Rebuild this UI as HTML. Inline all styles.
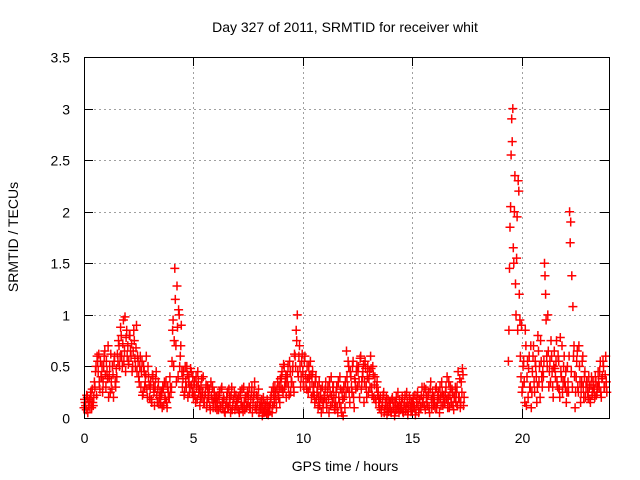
<!DOCTYPE html>
<html><head><meta charset="utf-8"><style>
body{margin:0;background:#fff}
svg{display:block;font-family:"Liberation Sans",sans-serif}
</style></head><body>
<svg id="chart" width="640" height="480" viewBox="0 0 640 480">
<text x="345" y="32" font-size="14" text-anchor="middle">Day 327 of 2011, SRMTID for receiver whit</text>
<text transform="translate(18,237) rotate(-90)" font-size="14" text-anchor="middle">SRMTID / TECUs</text>
<text x="345" y="471" font-size="14" text-anchor="middle">GPS time / hours</text>
<g id="grid"></g>
<g id="ticks"></g>
<g id="points"></g>
<rect x="84.5" y="57.5" width="525" height="361" fill="none" stroke="#000" stroke-width="1"/>
</svg>
<script>
const xTicks=[0,5,10,15,20];
const yTicks=[0,0.5,1,1.5,2,2.5,3,3.5];
const yTickLabels=["0","0.5","1","1.5","2","2.5","3","3.5"];
const startHour=0;
const stepHour=0.05;
const srmtid=[
0.1,0.15,0.08,0.2,0.12,0.18,0.25,0.1,0.15,0.2,
0.3,0.5,0.6,0.45,0.35,0.55,0.4,0.25,0.5,0.65,
0.3,0.45,0.7,0.4,0.25,0.35,0.5,0.2,0.6,0.3,
0.4,0.55,0.7,0.6,0.8,0.5,0.95,0.65,0.45,0.85,
0.7,0.55,0.8,0.6,0.45,0.65,0.75,0.5,0.9,0.6,
0.4,0.5,0.3,0.55,0.25,0.45,0.35,0.6,0.2,0.4,
0.2,0.35,0.15,0.4,0.25,0.3,0.45,0.15,0.35,0.2,
0.15,0.25,0.3,0.12,0.2,0.35,0.1,0.25,0.2,0.3,
0.3,0.85,0.5,1.45,0.7,1.28,0.4,1.0,0.6,0.9,
0.3,0.45,0.25,0.35,0.5,0.2,0.4,0.3,0.45,0.25,
0.2,0.35,0.15,0.3,0.45,0.25,0.12,0.3,0.2,0.4,
0.15,0.25,0.1,0.3,0.2,0.12,0.35,0.18,0.1,0.25,
0.1,0.2,0.15,0.08,0.25,0.12,0.3,0.1,0.18,0.05,
0.15,0.25,0.1,0.2,0.05,0.3,0.12,0.18,0.08,0.22,
0.1,0.2,0.05,0.25,0.15,0.1,0.3,0.08,0.2,0.12,
0.15,0.3,0.1,0.25,0.05,0.2,0.35,0.12,0.08,0.2,
0.05,0.15,0.1,0.02,0.2,0.08,0.12,0.04,0.1,0.06,
0.1,0.2,0.05,0.3,0.15,0.25,0.1,0.35,0.2,0.15,
0.3,0.45,0.25,0.5,0.35,0.2,0.4,0.3,0.55,0.25,
0.35,0.5,0.25,0.6,0.85,1.0,0.4,0.7,0.3,0.55,
0.45,0.3,0.6,0.35,0.5,0.25,0.4,0.55,0.2,0.45,
0.3,0.15,0.4,0.25,0.1,0.35,0.2,0.05,0.3,0.15,
0.2,0.35,0.1,0.3,0.05,0.25,0.4,0.15,0.3,0.1,
0.15,0.3,0.05,0.2,0.4,0.1,0.25,0.02,0.2,0.35,
0.65,0.3,0.5,0.15,0.4,0.25,0.55,0.1,0.35,0.45,
0.3,0.5,0.2,0.6,0.35,0.45,0.15,0.55,0.3,0.4,
0.25,0.45,0.6,0.3,0.5,0.2,0.4,0.15,0.35,0.25,
0.1,0.2,0.05,0.15,0.25,0.08,0.12,0.03,0.18,0.1,
0.15,0.05,0.2,0.1,0.02,0.15,0.08,0.25,0.05,0.12,
0.1,0.2,0.05,0.15,0.08,0.25,0.03,0.12,0.18,0.06,
0.08,0.2,0.12,0.03,0.15,0.25,0.05,0.18,0.1,0.3,
0.15,0.3,0.08,0.2,0.12,0.25,0.05,0.35,0.1,0.2,
0.2,0.1,0.3,0.15,0.25,0.05,0.2,0.35,0.12,0.22,
0.15,0.3,0.4,0.2,0.1,0.3,0.15,0.25,0.08,0.2,
0.15,0.3,0.45,0.2,0.1,0.35,0.48,0.12,null,null,
null,null,null,null,null,null,null,null,null,null,
null,null,null,null,null,null,null,null,null,null,
null,null,null,null,null,null,null,null,null,null,
null,null,null,null,null,null,null,null,0.55,1.45,
2.05,2.9,3.0,1.5,2.35,1.0,1.95,2.3,1.2,0.6,
0.9,0.3,0.55,0.15,0.7,0.4,0.2,0.6,0.3,0.1,
0.45,0.7,0.25,0.5,0.15,0.8,0.35,0.2,0.55,0.3,
0.4,1.5,1.2,0.6,1.0,0.3,0.55,0.75,0.45,0.2,
0.65,0.4,0.75,0.3,0.55,0.2,0.45,0.7,0.35,0.6,
0.3,0.15,0.5,0.25,2.0,1.9,1.38,1.08,0.7,0.1,
0.4,0.65,0.25,0.5,0.15,0.35,0.6,0.2,0.45,0.3,
0.35,0.2,0.3,0.15,0.4,0.25,0.3,0.2,0.35,0.25,
0.45,0.3,0.55,0.2,0.4,0.5,0.3,0.6,0.25,null
];
const srmtidB=[
0.18,0.12,0.22,0.05,0.16,0.1,0.2,0.28,0.12,0.35,
0.45,0.22,0.55,0.62,0.28,0.4,0.5,0.35,0.6,0.42,
0.55,0.38,0.2,0.5,0.62,0.28,0.42,0.55,0.35,0.48,
0.62,0.75,0.5,0.88,0.6,0.72,0.55,0.98,0.78,0.6,
0.52,0.8,0.65,0.72,0.5,0.85,0.58,0.68,0.45,0.55,
0.35,0.6,0.45,0.22,0.5,0.3,0.42,0.28,0.5,0.32,
0.28,0.18,0.42,0.3,0.12,0.38,0.22,0.28,0.15,0.25,
0.22,0.1,0.28,0.35,0.18,0.15,0.3,0.2,0.4,0.25,
0.55,0.95,0.75,1.15,0.35,0.88,1.05,0.5,0.7,0.45,
0.38,0.22,0.5,0.3,0.42,0.35,0.25,0.48,0.32,0.4,
0.3,0.22,0.4,0.18,0.35,0.28,0.2,0.38,0.25,0.15,
0.22,0.32,0.15,0.2,0.28,0.08,0.22,0.3,0.15,0.2,
0.15,0.08,0.22,0.18,0.1,0.28,0.15,0.2,0.06,0.12,
0.2,0.1,0.28,0.15,0.22,0.08,0.18,0.25,0.12,0.16,
0.18,0.08,0.22,0.12,0.28,0.06,0.15,0.2,0.1,0.25,
0.22,0.1,0.18,0.3,0.15,0.25,0.1,0.22,0.15,0.28,
0.12,0.08,0.18,0.1,0.05,0.14,0.1,0.18,0.03,0.12,
0.15,0.25,0.12,0.22,0.3,0.18,0.28,0.22,0.3,0.38,
0.4,0.28,0.52,0.3,0.42,0.35,0.5,0.22,0.45,0.35,
0.45,0.3,0.62,0.5,0.75,0.45,0.6,0.5,0.4,0.62,
0.35,0.55,0.42,0.28,0.38,0.5,0.3,0.42,0.35,0.25,
0.22,0.35,0.18,0.3,0.2,0.12,0.28,0.18,0.1,0.22,
0.28,0.15,0.25,0.18,0.35,0.12,0.22,0.3,0.2,0.08,
0.25,0.1,0.35,0.15,0.28,0.05,0.18,0.3,0.1,0.25,
0.4,0.55,0.25,0.45,0.3,0.5,0.2,0.38,0.28,0.5,
0.45,0.35,0.58,0.28,0.4,0.52,0.35,0.48,0.2,0.5,
0.38,0.3,0.48,0.22,0.42,0.32,0.18,0.3,0.22,0.15,
0.18,0.08,0.12,0.22,0.05,0.15,0.2,0.1,0.06,0.15,
0.08,0.18,0.1,0.15,0.06,0.2,0.12,0.1,0.18,0.08,
0.15,0.06,0.12,0.22,0.1,0.15,0.08,0.2,0.1,0.15,
0.15,0.1,0.22,0.08,0.2,0.12,0.18,0.1,0.22,0.15,
0.22,0.12,0.28,0.15,0.22,0.1,0.28,0.18,0.25,0.12,
0.15,0.28,0.1,0.22,0.18,0.3,0.12,0.25,0.2,0.15,
0.25,0.18,0.1,0.35,0.22,0.15,0.28,0.12,0.2,0.3,
0.25,0.12,0.2,0.38,0.15,0.25,0.42,0.2,null,null,
null,null,null,null,null,null,null,null,null,null,
null,null,null,null,null,null,null,null,null,null,
null,null,null,null,null,null,null,null,null,null,
null,null,null,null,null,null,null,null,0.85,1.85,
2.55,2.68,1.65,2.0,1.3,1.55,0.85,2.2,0.95,0.4,
0.25,0.5,0.35,0.85,0.12,0.55,0.48,0.3,0.7,0.25,
0.6,0.35,0.55,0.4,0.3,0.65,0.5,0.75,0.4,0.45,
0.55,1.38,0.95,0.5,0.65,0.45,0.35,0.6,0.3,0.5,
0.48,0.55,0.35,0.6,0.28,0.78,0.4,0.25,0.5,0.35,
0.45,0.25,0.35,0.6,1.7,0.45,0.3,0.6,0.4,0.25,
0.55,0.3,0.7,0.35,0.25,0.55,0.3,0.4,0.2,0.35,
0.25,0.4,0.18,0.32,0.22,0.35,0.28,0.4,0.22,0.3,
0.35,0.45,0.25,0.38,0.55,0.3,0.42,0.35,null,null
];
const X0=84,X1=609,Y0=418,Y1=57;
function xs(h){return X0+(h/24)*(X1-X0);}
function ys(v){return Y0-(v/3.5)*(Y0-Y1);}
const NS="http://www.w3.org/2000/svg";
const grid=document.getElementById('grid'),ticks=document.getElementById('ticks'),pts=document.getElementById('points');
function mk(tag,attrs,parent){const e=document.createElementNS(NS,tag);for(const k in attrs)e.setAttribute(k,attrs[k]);parent.appendChild(e);return e;}
yTicks.forEach((v,i)=>{
  const y=Math.round(ys(v))+0.5;
  if(i>0&&i<yTicks.length-1){const g=mk('line',{x1:X0,x2:X1,y1:y,y2:y,stroke:'#a0a0a0','stroke-dasharray':'2,3'},grid);
  
  }
  const t1=mk('line',{x1:X0,x2:X0+9,y1:y,y2:y,stroke:'#000'},ticks);
  
  
  const t2=mk('line',{x1:X1-9,x2:X1,y1:y,y2:y,stroke:'#000'},ticks);
  
  
  const l=mk('text',{x:70,y:y+5,'font-size':14,'text-anchor':'end'},ticks);
  l.textContent=yTickLabels[i];
  
  
});
xTicks.forEach((h,i)=>{
  const x=Math.round(xs(h))+0.5;
  if(i>0){const g=mk('line',{x1:x,x2:x,y1:Y1,y2:Y0,stroke:'#a0a0a0','stroke-dasharray':'2,3'},grid);
  
  }
  const t1=mk('line',{x1:x,x2:x,y1:Y0-9,y2:Y0,stroke:'#000'},ticks);
  
  
  const t2=mk('line',{x1:x,x2:x,y1:Y1,y2:Y1+9,stroke:'#000'},ticks);
  
  
  const l=mk('text',{x:x,y:443,'font-size':14,'text-anchor':'middle'},ticks);
  l.textContent=String(h);
  
  
});
function marks(arr,offset){
  let d='';
  arr.forEach((v,i)=>{
    if(v===null)return;
    const x=xs(startHour+offset+i*stepHour),y=ys(v);
    d+=`M${(x-4.5).toFixed(1)} ${y.toFixed(1)}h9M${x.toFixed(1)} ${(y-4.5).toFixed(1)}v9`;
  });
  return d;
}
const p=mk('path',{d:marks(srmtid,0)+marks(srmtidB,stepHour/2),stroke:'#ff0000','stroke-width':1.5,fill:'none'},pts);


</script>
</body></html>
